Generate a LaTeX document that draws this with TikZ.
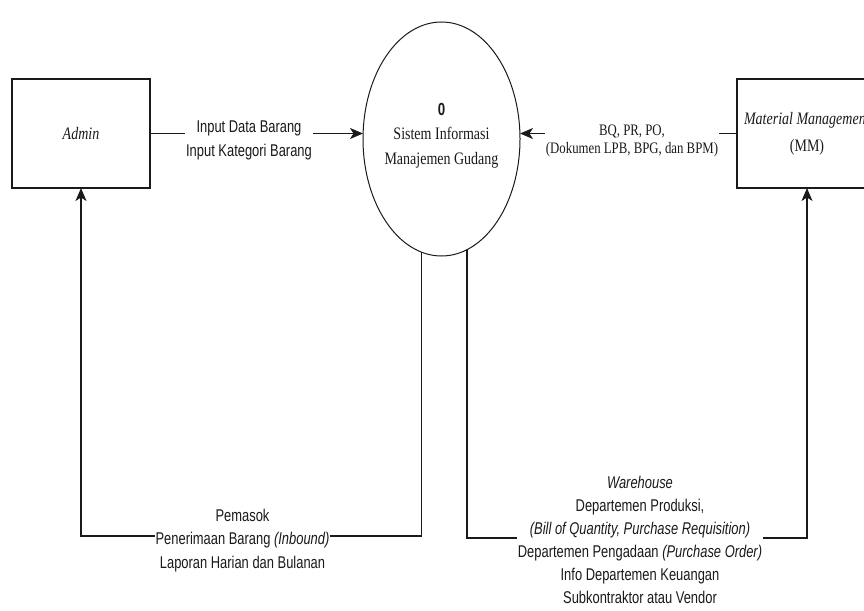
\documentclass[tikz,border=0pt]{standalone}
\usepackage{fontspec}
\usetikzlibrary{arrows.meta,shapes.geometric,calc}
\newfontfamily\lblsans{Liberation Sans}[FakeStretch=0.76]
\newfontfamily\entserif{Liberation Serif}[FakeStretch=0.8]
\definecolor{ink}{HTML}{1A1A1A}
\begin{document}
\begin{tikzpicture}[x=1pt,y=-1pt,
  entity/.style={draw=ink,line width=1.4pt,minimum height=109pt,inner sep=0pt,outer sep=0pt,
    font=\entserif\fontsize{17.5}{27}\selectfont,align=center,text=ink},
  procshape/.style={ellipse,draw=ink,line width=1pt,fill=white,minimum width=157pt,minimum height=234pt,inner sep=0pt,outer sep=0pt},
  proctext/.style={align=center,font=\entserif\fontsize{17.5}{24.5}\selectfont,text=ink},
  flow/.style={draw=ink,line width=1.5pt,-{Stealth[length=13pt,width=11pt,inset=3.5pt]}},
  flowlbl/.style={fill=white,inner sep=1pt,align=center,font=\lblsans\fontsize{17}{23.5}\selectfont,text=ink},
]
\useasboundingbox (0,0) rectangle (864,610);
\clip (0,0) rectangle (864,610);
\fill[white] (0,0) rectangle (864,610);

% nodes
\node[entity,minimum width=138pt] (admin) at (81,133.5) {\textit{Admin}};
\node[entity,minimum width=140pt] (mm) at (807,133.5) {\textit{Material Management}\\(MM)};
\node[procshape] (proc) at (441.5,139) {};
\node[proctext,anchor=base] (proctxt) at (441.5,164) {{\lblsans\bfseries 0}\\Sistem Informasi\\Manajemen Gudang};

\coordinate (bl) at (81,536);
\coordinate (br) at (807,538);

% connectors
\draw[flow] (admin.east) -- (admin.east -| proc.west);
\draw[flow] (mm.west) -- (mm.west -| proc.east);
\draw[flow] (proc.-100.3) |- (bl) -- (admin.south);
\draw[flow] (proc.-77.6) |- (br) -- (mm.south);

% labels
\node[flowlbl,anchor=base] (lin) at (249,156) {Input Data Barang\\Input Kategori Barang};
\node[flowlbl,anchor=base,font=\entserif\fontsize{16}{18}\selectfont] (lbq) at (632,153) {BQ, PR, PO,\\(Dokumen LPB, BPG, dan BPM)};
\node[flowlbl,anchor=base] (lpem) at (242.5,568) {Pemasok\\Penerimaan Barang \textit{(Inbound)}\\Laporan Harian dan Bulanan};
\node[flowlbl,anchor=base,font=\lblsans\fontsize{17}{23}\selectfont] (lwh) at (640,603) {\textit{Warehouse}\\Departemen Produksi,\\\textit{(Bill of Quantity, Purchase Requisition)}\\Departemen Pengadaan \textit{(Purchase Order)}\\Info Departemen Keuangan\\Subkontraktor atau Vendor};
\end{tikzpicture}
\end{document}
